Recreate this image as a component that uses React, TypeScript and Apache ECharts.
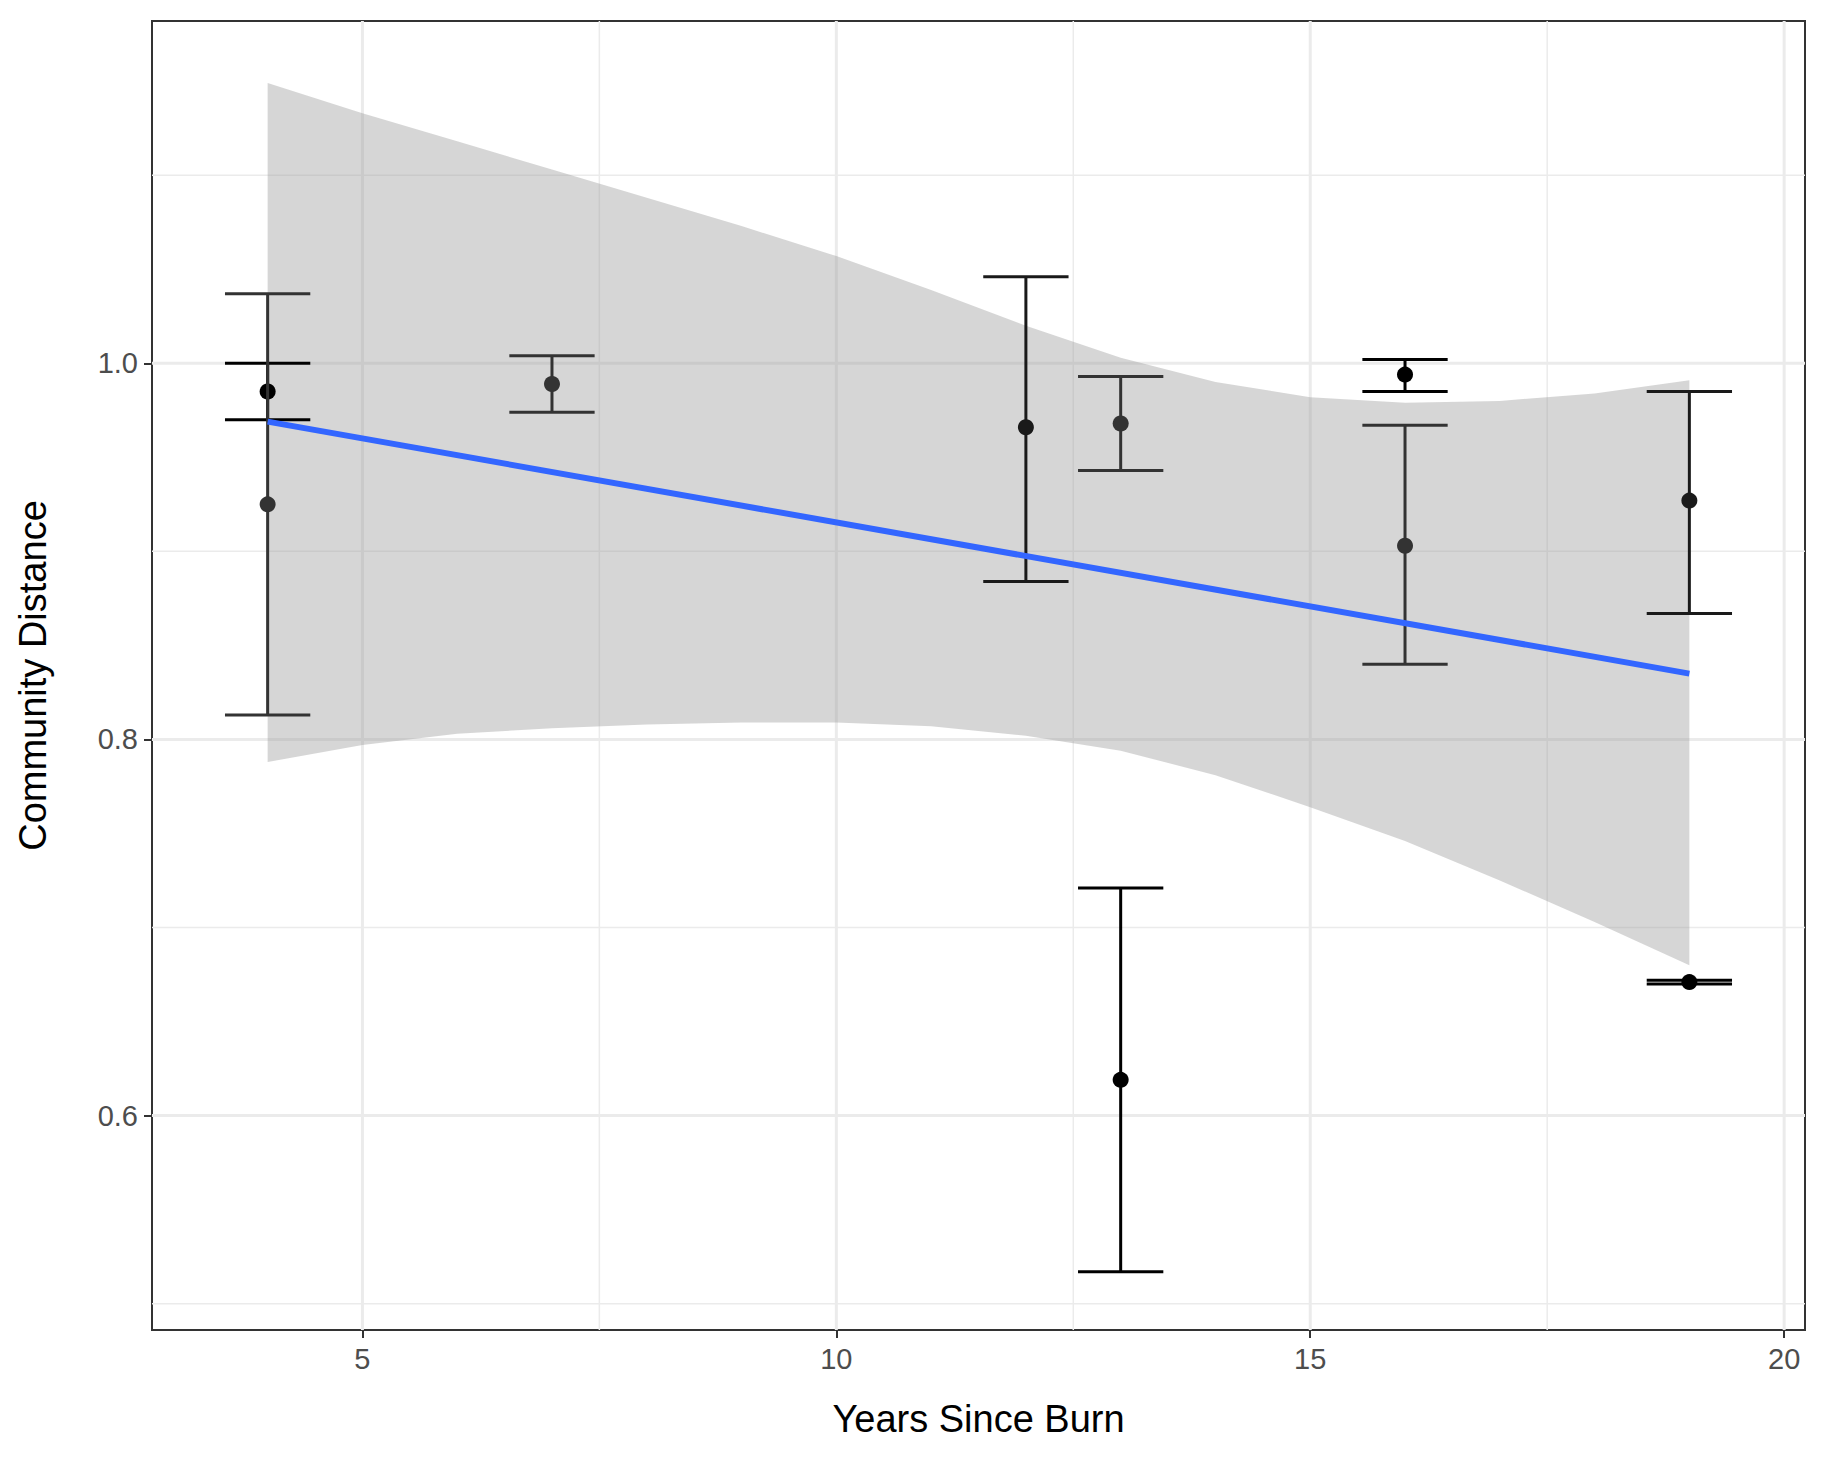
import { useEffect, useRef } from "react";
import * as echarts from "echarts";

const xTicks = [5, 10, 15, 20];
const yTicks = [0.6, 0.8, 1.0];
const xMinor = [7.5, 12.5, 17.5];
const yMinor = [0.5, 0.7, 0.9, 1.1];

// [years, mean, low, high, colour]
const points: [number, number, number, number, string][] = [
  [4, 0.985, 0.97, 1.0, "#000000"],
  [4, 0.925, 0.813, 1.037, "#333333"],
  [7, 0.989, 0.974, 1.004, "#333333"],
  [12, 0.966, 0.884, 1.046, "#1a1a1a"],
  [13, 0.968, 0.943, 0.993, "#333333"],
  [13, 0.619, 0.517, 0.721, "#000000"],
  [16, 0.994, 0.985, 1.002, "#000000"],
  [16, 0.903, 0.84, 0.967, "#333333"],
  [19, 0.927, 0.867, 0.985, "#1a1a1a"],
  [19, 0.671, 0.67, 0.672, "#000000"],
];

const fitLine = [
  [4, 0.969],
  [19, 0.835],
];
const bandX = [4, 5, 6, 7, 8, 9, 10, 11, 12, 13, 14, 15, 16, 17, 18, 19];
const bandUpper = [1.149, 1.133, 1.118, 1.103, 1.088, 1.073, 1.057, 1.039, 1.02, 1.003, 0.99, 0.982, 0.979, 0.98, 0.984, 0.991];
const bandLower = [0.788, 0.797, 0.803, 0.806, 0.808, 0.809, 0.809, 0.807, 0.802, 0.794, 0.781, 0.764, 0.746, 0.725, 0.703, 0.68];

const X_MIN = 2.78, X_MAX = 20.22, Y_MIN = 0.486, Y_MAX = 1.182;

export default function App() {
  const ref = useRef<HTMLDivElement>(null);

  useEffect(() => {
    document.body.style.margin = "0";
    if (!ref.current) return;
    const chart = echarts.init(ref.current, undefined, { renderer: "svg" });
    const font = "Liberation Sans, Arial, sans-serif";

    chart.setOption({
      animation: false,
      grid: { left: 152, right: 16, top: 21, bottom: 135, show: true, borderColor: "#333", borderWidth: 2 },
      xAxis: {
        type: "value", min: X_MIN, max: X_MAX,
        name: "Years Since Burn", nameLocation: "middle", nameGap: 70,
        nameTextStyle: { fontSize: 38, color: "#000", fontFamily: font },
        axisLine: { show: false },
        axisTick: { show: true, customValues: xTicks, length: 8, lineStyle: { color: "#333", width: 2 } },
        axisLabel: { customValues: xTicks, fontSize: 29, color: "#4d4d4d", fontFamily: font, margin: 14 },
        splitLine: { show: false },
      },
      yAxis: {
        type: "value", min: Y_MIN, max: Y_MAX,
        name: "Community Distance", nameLocation: "middle", nameGap: 100,
        nameTextStyle: { fontSize: 38, color: "#000", fontFamily: font },
        axisLine: { show: false },
        axisTick: { show: true, customValues: yTicks, length: 8, lineStyle: { color: "#333", width: 2 } },
        axisLabel: { customValues: yTicks, fontSize: 29, color: "#4d4d4d", fontFamily: font, margin: 14,
          formatter: (v: number) => v.toFixed(1) },
        splitLine: { show: false },
      },
      series: [
        {
          type: "custom", z: 1, silent: true,
          data: [0],
          renderItem: (_p: any, api: any) => {
            const children: any[] = [];
            const vline = (x: number, w: number) => {
              const a = api.coord([x, Y_MIN]), b = api.coord([x, Y_MAX]);
              children.push({ type: "line", shape: { x1: a[0], y1: a[1], x2: b[0], y2: b[1] }, style: { stroke: "#ebebeb", lineWidth: w } });
            };
            const hline = (y: number, w: number) => {
              const a = api.coord([X_MIN, y]), b = api.coord([X_MAX, y]);
              children.push({ type: "line", shape: { x1: a[0], y1: a[1], x2: b[0], y2: b[1] }, style: { stroke: "#ebebeb", lineWidth: w } });
            };
            xMinor.forEach((x) => vline(x, 1.5));
            yMinor.forEach((y) => hline(y, 1.5));
            xTicks.forEach((x) => vline(x, 3));
            yTicks.forEach((y) => hline(y, 3));
            return { type: "group", children };
          },
        },
        {
          type: "custom", z: 2, silent: true,
          data: [0],
          renderItem: (_p: any, api: any) => {
            const pts = bandX.map((x, i) => api.coord([x, bandUpper[i]]));
            for (let i = bandX.length - 1; i >= 0; i--) pts.push(api.coord([bandX[i], bandLower[i]]));
            return { type: "polygon", shape: { points: pts }, style: { fill: "rgba(153,153,153,0.4)" } };
          },
        },
        {
          type: "custom", z: 3, silent: true,
          data: points.map((p) => [p[0], p[1], p[2], p[3]]),
          renderItem: (params: any, api: any) => {
            const p = points[params.dataIndex];
            const lo = api.coord([p[0], p[2]]);
            const hi = api.coord([p[0], p[3]]);
            const c = api.coord([p[0], p[1]]);
            const hw = api.size([0.45, 0])[0];
            const st = { stroke: p[4], lineWidth: 3 };
            return {
              type: "group",
              children: [
                { type: "line", shape: { x1: lo[0], y1: lo[1], x2: hi[0], y2: hi[1] }, style: st },
                { type: "line", shape: { x1: lo[0] - hw, y1: lo[1], x2: lo[0] + hw, y2: lo[1] }, style: st },
                { type: "line", shape: { x1: hi[0] - hw, y1: hi[1], x2: hi[0] + hw, y2: hi[1] }, style: st },
                { type: "circle", shape: { cx: c[0], cy: c[1], r: 8 }, style: { fill: p[4] } },
              ],
            };
          },
        },
        {
          type: "line", z: 4, data: fitLine, symbol: "none",
          lineStyle: { color: "#3366ff", width: 6 },
        },
      ],
    });

    return () => chart.dispose();
  }, []);

  return <div ref={ref} style={{ width: 1821, height: 1465 }} />;
}
